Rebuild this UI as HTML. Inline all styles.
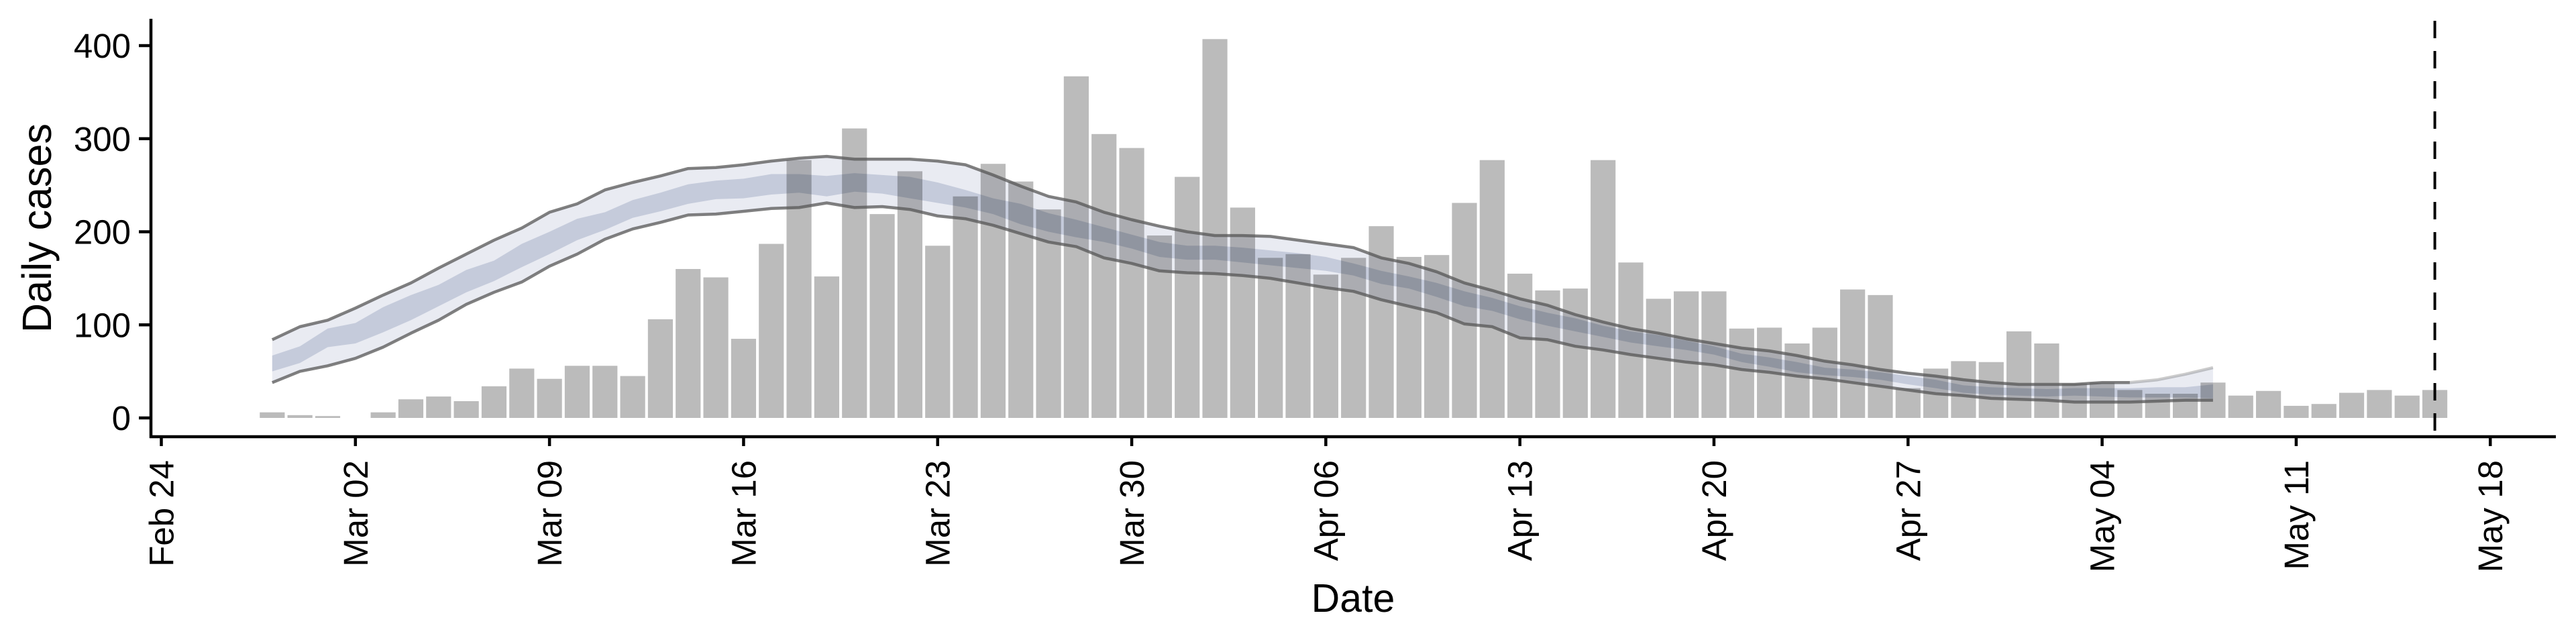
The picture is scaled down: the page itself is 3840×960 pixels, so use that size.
<!DOCTYPE html>
<html><head><meta charset="utf-8"><style>
html,body{margin:0;padding:0;background:#fff;}
svg{display:block;font-family:"Liberation Sans",sans-serif;}
</style></head><body>
<svg id="chart" width="3840" height="960" viewBox="0 0 3840 960" xmlns="http://www.w3.org/2000/svg">
<g id="bars"></g>
<g id="bands" style="mix-blend-mode:multiply"></g>
<g id="lines"></g>
<g id="axes"></g>
<text x="0" y="0" transform="translate(76,340) rotate(-90)" text-anchor="middle" font-size="61">Daily cases</text>
<text x="2017" y="912" text-anchor="middle" font-size="59">Date</text>
</svg>
<script>
const barStart = "2020-02-28";
const cases = [6,3,2,0,6,20,23,18,34,53,42,56,56,45,106,160,151,85,187,277,152,311,219,265,185,238,273,254,224,367,305,290,196,259,407,226,172,176,154,172,206,173,175,231,277,155,137,139,277,167,128,136,136,96,97,80,97,138,132,32,53,61,60,93,80,37,38,30,26,26,38,24,29,13,15,27,30,24,30];
const bandStart = "2020-02-28";
const upper = [84,98,105,118,132,145,161,176,191,204,221,230,245,253,260,268,269,272,276,279,281,278,
278,278,276,272,261,249,238,232,221,213,206,200,196,196,195,191,187,183,172,166,157,145,137,128,121,111,103,96,91,85,80,75,
72,67,61,57,52,48,45,41,38,36,36,36,38,38,41,47,54];
const lower = [38,50,56,64,76,91,105,122,135,146,163,176,192,203,210,218,219,222,225,226,231,226,
227,224,217,214,207,198,189,184,172,166,158,156,155,153,150,145,140,136,127,120,113,101,98,86,84,77,73,68,64,60,57,52,
49,45,42,38,34,30,26,24,21,20,19,17,17,17,18,19,19];
const innerUpper = [67,77,96,102,119,132,143,159,169,187,200,214,221,234,242,251,255,257,262,262,260,263,
261,259,253,245,236,230,220,213,205,197,189,185,185,183,180,177,173,166,158,152,145,136,129,120,113,107,99,93,89,83,77,69,
65,60,54,52,49,45,41,35,33,32,31,32,32,32,33,33,36];
const innerLower = [50,59,76,80,92,105,120,135,147,162,176,191,202,215,222,230,235,236,240,242,238,243,
241,236,231,226,219,208,200,194,189,182,173,170,170,167,164,161,158,153,144,139,130,120,115,106,99,93,87,81,77,73,68,60,
55,49,46,44,41,36,32,27,25,24,23,24,23,22,22,22,21];
const yTicks = [0,100,200,300,400];
const xTickLabels = ["Feb 24","Mar 02","Mar 09","Mar 16","Mar 23","Mar 30","Apr 06","Apr 13","Apr 20","Apr 27","May 04","May 11","May 18"];
const xTickDates = ["2020-02-24","2020-03-02","2020-03-09","2020-03-16","2020-03-23","2020-03-30","2020-04-06","2020-04-13","2020-04-20","2020-04-27","2020-05-04","2020-05-11","2020-05-18"];
const cutoffDate = "2020-05-16";

const NS="http://www.w3.org/2000/svg";
const origin = Date.UTC(2020,1,24);
function dayOf(s){const p=s.split("-");return Math.round((Date.UTC(+p[0],+p[1]-1,+p[2])-origin)/86400000);}
function xScale(d){return 240.5+d*41.33;}
function yScale(v){return 623-v*1.3875;}
function mk(tag,attrs,parent){const e=document.createElementNS(NS,tag);for(const k in attrs)e.setAttribute(k,attrs[k]);parent.appendChild(e);return e;}

const gb=document.getElementById("bars");
const b0=dayOf(barStart);
cases.forEach((v,i)=>{
  const cx=xScale(b0+i), w=37.2;
  const r=mk("rect",{x:cx-w/2,y:yScale(v),width:w,height:yScale(0)-yScale(v),fill:"#bbbbbb"},gb);
  
  
});

const s0=dayOf(bandStart);
function areaPath(top,bot){
  let d="";
  top.forEach((v,i)=>{d+=(i?"L":"M")+xScale(s0+i).toFixed(1)+","+yScale(v).toFixed(1);});
  for(let i=bot.length-1;i>=0;i--)d+="L"+xScale(s0+i).toFixed(1)+","+yScale(bot[i]).toFixed(1);
  return d+"Z";
}
function linePath(arr,from,to){let d="";for(let i=from;i<=to;i++){d+=(i>from?"L":"M")+xScale(s0+i).toFixed(1)+","+yScale(arr[i]).toFixed(1);}return d;}
const gbd=document.getElementById("bands");
const outer=mk("path",{d:areaPath(upper,lower),fill:"#e9ebf2"},gbd);


const inner=mk("path",{d:areaPath(innerUpper,innerLower),fill:"#c5cbdb"},gbd);


const gl=document.getElementById("lines");
const nU=upper.length-1, tail=Math.max(0,nU-3);
const lu=mk("path",{d:linePath(upper,0,tail),fill:"none",stroke:"#555",'stroke-opacity':"0.75","stroke-width":"4.5","stroke-linejoin":"round"},gl);


const lut=mk("path",{d:linePath(upper,tail,nU),fill:"none",stroke:"#555",'stroke-opacity':"0.3","stroke-width":"4.5","stroke-linejoin":"round"},gl);


const ll=mk("path",{d:linePath(lower,0,lower.length-1),fill:"none",stroke:"#555",'stroke-opacity':"0.75","stroke-width":"4.5","stroke-linejoin":"round"},gl);



const ga=document.getElementById("axes");
const ya=mk("line",{x1:225,y1:28,x2:225,y2:653,stroke:"#000","stroke-width":"4.5"},ga);


const xa=mk("line",{x1:223,y1:651,x2:3810,y2:651,stroke:"#000","stroke-width":"4.5"},ga);


yTicks.forEach(v=>{
  const y=yScale(v);
  const t=mk("line",{x1:207,y1:y,x2:225,y2:y,stroke:"#000","stroke-width":"4.5"},ga);
  
  
  const tx=mk("text",{x:195,y:y+18,"text-anchor":"end","font-size":"51"},ga);
  tx.textContent=String(v);
  
  
});
xTickDates.forEach((s,i)=>{
  const x=xScale(dayOf(s));
  const t=mk("line",{x1:x,y1:651,x2:x,y2:665,stroke:"#000","stroke-width":"4.5"},ga);
  
  
  const tx=mk("text",{x:0,y:0,transform:"translate("+(x+18)+",686) rotate(-90)","text-anchor":"end","font-size":"51"},ga);
  tx.textContent=xTickLabels[i];
  
  
});
const cx=xScale(dayOf(cutoffDate));
const dl=mk("line",{x1:cx,y1:31,x2:cx,y2:649,stroke:"#000","stroke-width":"4","stroke-dasharray":"26 19"},ga);


</script>
</body></html>
